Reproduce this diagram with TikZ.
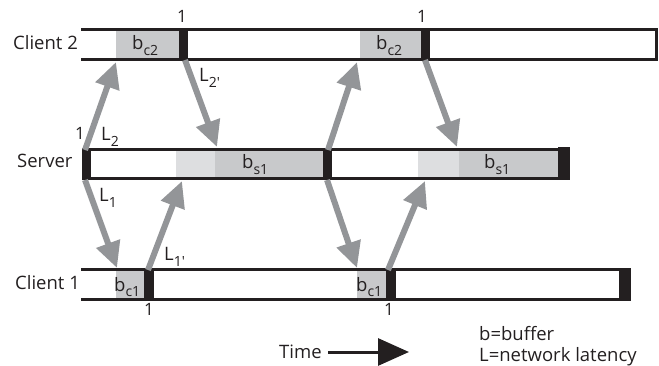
\documentclass[tikz,border=0pt]{standalone}
\usepackage{fontspec}
\setmainfont{Open Sans}
\usetikzlibrary{arrows.meta}
\definecolor{ink}{HTML}{231F20}
\definecolor{agray}{HTML}{939598}
\definecolor{bgray}{HTML}{C8C9CB}
\definecolor{lgray}{HTML}{DDDEE0}
\newcommand\sbs[1]{\raisebox{-0.3em}{\fontsize{14}{14}\selectfont #1}}
\tikzset{
  lbl/.style={anchor=base west, inner sep=0pt, font=\fontsize{18.5}{21}\selectfont, text=ink},
  num/.style={anchor=base, inner sep=0pt, font=\fontsize{17}{19}\selectfont, text=ink},
  bar/.style={line width=3pt, draw=ink, miter limit=10},
  blk/.style={fill=ink, draw=none},
  buf/.style={fill=bgray, draw=none},
  lbuf/.style={fill=lgray, draw=none},
  msg/.style={draw=agray, line width=6pt, -{Triangle[width=24pt,length=26pt]}, shorten >=0pt},
}
\begin{document}
\begin{tikzpicture}[x=1pt,y=-1pt]
\useasboundingbox (0,0) rectangle (659,366);
% ---------- Client 2 ----------
\fill[buf] (116,30) rectangle (179,60);
\fill[buf] (360,30) rectangle (421,60);
\draw[bar] (81,29.5) -- (656.5,29.5) -- (656.5,59.7) -- (81,59.7);
\fill[blk] (179,28) rectangle (188,61.2);
\fill[blk] (421,28) rectangle (430,61.2);
% ---------- Server ----------
\fill[lbuf] (176,150) rectangle (215,178);
\fill[buf] (215,150) rectangle (323,178);
\fill[lbuf] (418,150) rectangle (459,178);
\fill[buf] (459,150) rectangle (558,178);
\draw[bar] (82,149.2) -- (565,149.2);
\draw[bar] (82,179) -- (565,179);
\fill[blk] (82,147.7) rectangle (91,180.5);
\fill[blk] (323,147.7) rectangle (332,180.5);
\fill[blk] (558,146.7) rectangle (570,180.5);
% ---------- Client 1 ----------
\fill[buf] (116,270) rectangle (144,299);
\fill[buf] (357,270) rectangle (386,299);
\draw[bar] (81,269.7) -- (625,269.7);
\draw[bar] (81,299.7) -- (625,299.7);
\fill[blk] (144,268.2) rectangle (154,301.2);
\fill[blk] (386,268.2) rectangle (396,301.2);
\fill[blk] (619,268.2) rectangle (631,301.2);
% ---------- labels ----------
\node[lbl] (c2) at (13,50) {Client 2};
\node[lbl] (sv) at (17,168) {Server};
\node[lbl] (c1) at (15,290) {Client 1};
\node[lbl] (bc2a) at (132,50) {b\sbs{c2}};
\node[lbl] (bc2b) at (376,50) {b\sbs{c2}};
\node[lbl] (bs1a) at (242,169) {b\sbs{s1}};
\node[lbl] (bs1b) at (484,169) {b\sbs{s1}};
\node[lbl] (bc1a) at (114,291) {b\sbs{c1}};
\node[lbl] (bc1b) at (356,291) {b\sbs{c1}};
\node[num] (n1) at (182,23) {1};
\node[num] (n2) at (422,23) {1};
\node[num] (n3) at (80,140) {1};
\node[num] (n4) at (149,316) {1};
\node[num] (n5) at (389,316) {1};
\node[lbl] (l2p) at (199,82) {L\sbs{2\textquotesingle}};
\node[lbl] (l2) at (101,141) {L\sbs{2}};
\node[lbl] (l1) at (99,202) {L\sbs{1}};
\node[lbl] (l1p) at (164,261) {L\sbs{1\textquotesingle}};
\node[lbl] (time) at (279,358) {Time};
\node[lbl] (leg1) at (479,341) {b=buffer};
\node[lbl] (leg2) at (479,361) {L=network latency};
% ---------- message arrows ----------
\coordinate (sA) at (85,150);  \coordinate (c2A) at (116,62);
\coordinate (c2B) at (185,60); \coordinate (sB) at (217,147);
\coordinate (sC) at (85,180);  \coordinate (c1C) at (117,268);
\coordinate (c1D) at (148,270);\coordinate (sD) at (182,181);
\coordinate (sE) at (328,150); \coordinate (c2E) at (357,62);
\coordinate (c2F) at (425,60); \coordinate (sF) at (457,147);
\coordinate (sG) at (327,180); \coordinate (c1G) at (357,268);
\coordinate (c1H) at (388,270);\coordinate (sH) at (425,181);
\draw[msg] (sA) -- (c2A);
\draw[msg] (c2B) -- (sB);
\draw[msg] (sC) -- (c1C);
\draw[msg] (c1D) -- (sD);
\draw[msg] (sE) -- (c2E);
\draw[msg] (c2F) -- (sF);
\draw[msg] (sG) -- (c1G);
\draw[msg] (c1H) -- (sH);
% ---------- time arrow ----------
\coordinate (t0) at (328,352);
\coordinate (t1) at (409,352);
\draw[ink, line width=3pt, -{Triangle[width=27pt,length=31pt]}] (t0) -- (t1);
\end{tikzpicture}
\end{document}
